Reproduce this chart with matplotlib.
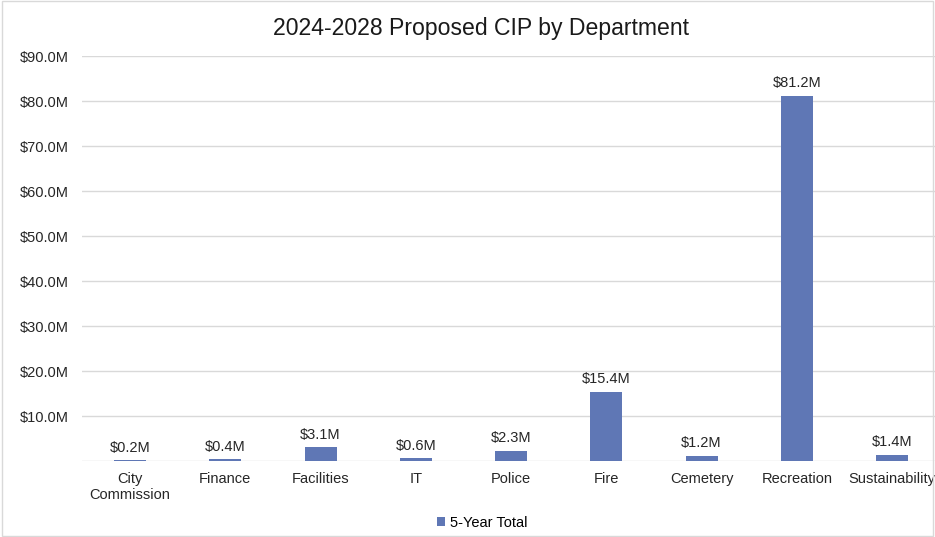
import matplotlib.pyplot as plt
from matplotlib.patches import Rectangle

plt.rcParams['font.family'] = ['Liberation Sans', 'DejaVu Sans']

departments = ["City\nCommission", "Finance", "Facilities", "IT", "Police",
               "Fire", "Cemetery", "Recreation", "Sustainability"]
totals = [0.2, 0.4, 3.1, 0.6, 2.3, 15.4, 1.2, 81.2, 1.4]  # $M, 5-year total
y_ticks = [10, 20, 30, 40, 50, 60, 70, 80, 90]

bar_color = '#5F77B5'
grid_color = '#D9D9D9'

fig = plt.figure(figsize=(9.35, 5.37), dpi=100)
# plot area runs slightly past the right edge, as in the original
ax = fig.add_axes([0.0882, 0.1415, 0.9168, 0.7542])

x = range(len(departments))
bars = ax.bar(x, totals, width=0.336, color=bar_color, label='5-Year Total', zorder=3)

for xi, v in zip(x, totals):
    ax.text(xi, v + 1.2, f"${v:.1f}M", ha='center', va='bottom', fontsize=10.5, color='#262626')

ax.set_ylim(0, 90)
ax.set_xlim(-0.5, len(departments) - 0.5)
ax.set_yticks(y_ticks)
ax.set_yticklabels([f"${t:.1f}M" for t in y_ticks])
ax.set_xticks(list(x))
ax.set_xticklabels(departments)
ax.tick_params(axis='both', length=0, labelsize=10.5, colors='#262626')
ax.tick_params(axis='x', pad=8)
ax.tick_params(axis='y', pad=10)

for y in [0] + y_ticks:
    ax.axhline(y, color=grid_color, lw=1.0, zorder=1)
for s in ax.spines.values():
    s.set_visible(False)

fig.suptitle("2024-2028 Proposed CIP by Department", x=0.5145, y=0.968,
             fontsize=16.6, color='#1a1a1a')

fig.legend(handles=[bars], labels=['5-Year Total'], loc='center', bbox_to_anchor=(0.5155, 0.027),
           frameon=False, fontsize=10.5, handlelength=0.6, handleheight=0.6, handletextpad=0.3)

fig.add_artist(Rectangle((0.002, 0.002), 0.996, 0.996, transform=fig.transFigure,
                         fill=False, edgecolor='#D9D9D9', lw=1.0))

fig.savefig('out.png', dpi=100)
